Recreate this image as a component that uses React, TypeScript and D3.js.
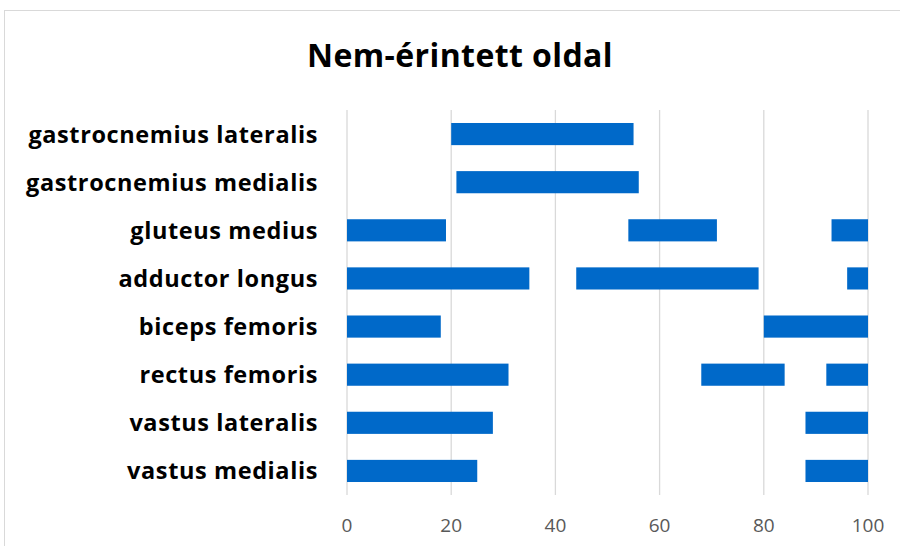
import React from "react";
import * as d3 from "d3";

const categories = [
  "gastrocnemius lateralis",
  "gastrocnemius medialis",
  "gluteus medius",
  "adductor longus",
  "biceps femoris",
  "rectus femoris",
  "vastus lateralis",
  "vastus medialis",
];

// Each muscle's active intervals: [start, end] pairs (percent of cycle)
const seg1Start = [20, 21, 0, 0, 0, 0, 0, 0];
const seg1End = [55, 56, 19, 35, 18, 31, 28, 25];
const seg2Start = [null, null, 54, 44, 80, 68, 88, 88];
const seg2End = [null, null, 71, 79, 100, 84, 100, 100];
const seg3Start = [null, null, 93, 96, null, 92, null, null];
const seg3End = [null, null, 100, 100, null, 100, null, null];

const xTicks = [0, 20, 40, 60, 80, 100];
const title = "Nem-érintett oldal";

const W = 900;
const H = 546;
const margin = { left: 347, right: 32, top: 110, bottom: 51 };
const FONT = "'Open Sans', Lato, sans-serif";

export default function App() {
  const x = d3.scaleLinear().domain([0, 100]).range([margin.left, W - margin.right]);
  const y = d3
    .scaleBand<string>()
    .domain(categories)
    .range([margin.top, H - margin.bottom])
    .paddingInner(0.54)
    .paddingOuter(0.27);

  const segments: { cat: string; s: number; e: number; key: string }[] = [];
  categories.forEach((c, i) => {
    const pairs: [number | null, number | null][] = [
      [seg1Start[i], seg1End[i]],
      [seg2Start[i], seg2End[i]],
      [seg3Start[i], seg3End[i]],
    ];
    pairs.forEach(([s, e], j) => {
      if (s !== null && e !== null) segments.push({ cat: c, s, e, key: `${i}-${j}` });
    });
  });

  return (
    <svg
      width={W}
      height={H}
      style={{ position: "absolute", left: 0, top: 0, background: "#fff" }}
    >
      <rect x={4.5} y={10.5} width={W} height={H} fill="#fff" stroke="#d9d9d9" strokeWidth={1} />
      <text
        x={460}
        y={67}
        textAnchor="middle"
        fontFamily={FONT}
        fontWeight="bold"
        fontSize={32}
        letterSpacing={0.4}
        fill="#000"
      >
        {title}
      </text>
      {xTicks.map((t) => (
        <g key={t}>
          <line
            x1={x(t)}
            x2={x(t)}
            y1={margin.top}
            y2={H - margin.bottom}
            stroke="#d9d9d9"
            strokeWidth={1.3}
          />
          <text
            x={x(t)}
            y={532}
            textAnchor="middle"
            fontFamily={FONT}
            fontSize={19}
            fill="#595959"
          >
            {t}
          </text>
        </g>
      ))}
      {segments.map((d) => (
        <rect
          key={d.key}
          x={x(d.s)}
          y={y(d.cat)!}
          width={x(d.e) - x(d.s)}
          height={y.bandwidth()}
          fill="#0069c9"
        />
      ))}
      {categories.map((c) => (
        <text
          key={c}
          x={318}
          y={y(c)! + y.bandwidth() / 2}
          dy="0.36em"
          textAnchor="end"
          fontFamily={FONT}
          fontWeight="bold"
          fontSize={23.5}
          letterSpacing={0.6}
          fill="#000"
        >
          {c}
        </text>
      ))}
    </svg>
  );
}
